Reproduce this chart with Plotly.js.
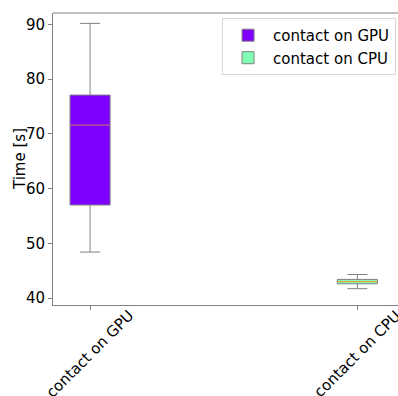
<!DOCTYPE html>
<html>
<head>
<meta charset="utf-8">
<script src="https://cdn.plot.ly/plotly-3.0.1.min.js"></script>
<style>html,body{margin:0;padding:0;background:#fff}#chart{width:398px;height:396px}</style>
</head>
<body>
<div id="chart"></div>
<script>
const categories = ['contact on GPU', 'contact on CPU'];
const positions = [0, 1];
const lowerWhisker = [48.4, 41.7];
const q1Values = [57.0, 42.6];
const medianValues = [71.6, 43.0];
const q3Values = [77.1, 43.4];
const upperWhisker = [90.2, 44.3];
const fillColors = ['#8000ff', '#80ffb4'];
const yTitle = 'Time [s]';

const boxWidth = 0.15;
const traces = [];
categories.forEach((c, i) => {
  traces.push({
    type: 'box',
    name: c,
    x: [positions[i]],
    q1: [q1Values[i]], median: [medianValues[i]], q3: [q3Values[i]],
    lowerfence: [lowerWhisker[i]], upperfence: [upperWhisker[i]],
    width: boxWidth,
    whiskerwidth: 0.5,
    fillcolor: fillColors[i],
    line: {color: '#808080', width: 1},
    hoverinfo: 'skip'
  });
});
categories.forEach((c, i) => {
  traces.push({
    type: 'scatter', mode: 'lines', showlegend: false, hoverinfo: 'skip',
    x: [positions[i] - boxWidth / 2, positions[i] + boxWidth / 2],
    y: [medianValues[i], medianValues[i]],
    line: {color: i === 0 ? '#c040a0' : '#ff9f40', width: 1}
  });
});

const font = {family: 'DejaVu Sans', size: 15, color: '#000'};
const annotations = categories.map((c, i) => ({
  text: c, x: positions[i], xref: 'x', y: 0, yref: 'paper',
  xanchor: 'center', yanchor: 'middle', yshift: -49,
  textangle: -45, showarrow: false, font: font
}));
annotations.push({
  text: yTitle, x: 0, xref: 'paper', y: 0.5, yref: 'paper',
  xanchor: 'center', yanchor: 'middle', xshift: -33,
  textangle: -90, showarrow: false, font: font
});

const layout = {
  width: 398, height: 396,
  margin: {l: 53, r: 0, t: 13, b: 91},
  paper_bgcolor: '#fff', plot_bgcolor: '#fff',
  font: font,
  showlegend: true,
  legend: {x: 0.49, y: 0.983, xanchor: 'left', yanchor: 'top',
    bgcolor: '#fff', bordercolor: '#d8d8d8', borderwidth: 1,
    itemwidth: 40, tracegroupgap: 0,
    font: font, traceorder: 'normal'},
  xaxis: {
    range: [-0.1386, 1.152], showgrid: false, zeroline: false,
    showline: true, linecolor: '#808080', linewidth: 1,
    ticks: 'outside', ticklen: 4, tickcolor: '#808080',
    tickvals: positions, showticklabels: false
  },
  yaxis: {
    range: [38.72, 92.1], showgrid: false, zeroline: false,
    showline: true, linecolor: '#808080', linewidth: 1,
    ticks: 'outside', ticklen: 4, tickcolor: '#808080',
    tickvals: [40, 50, 60, 70, 80, 90], tickfont: font
  },
  shapes: [{type: 'line', xref: 'paper', yref: 'paper', x0: 0, x1: 1, y0: 1, y1: 1,
    line: {color: '#808080', width: 1}}],
  annotations: annotations
};

Plotly.newPlot('chart', traces, layout, {staticPlot: true});
</script>
</body>
</html>
